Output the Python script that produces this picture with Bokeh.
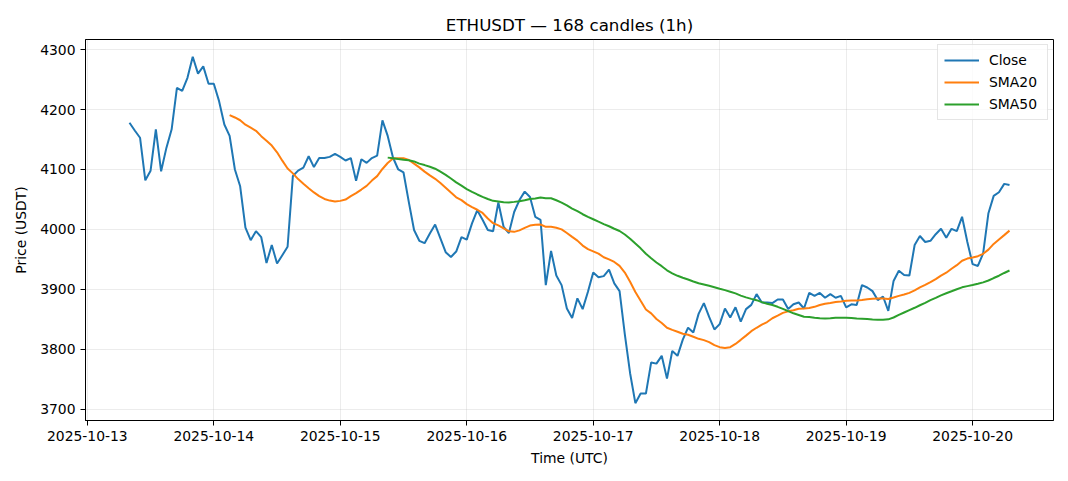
import numpy as np
import pandas as pd
from bokeh.plotting import figure
from bokeh.models import (Range1d, FixedTicker, DatetimeTickFormatter, Legend,
                          LegendItem, ColumnDataSource)
from bokeh.embed import file_html
from bokeh.resources import INLINE

title_text = "ETHUSDT \u2014 168 candles (1h)"
x_label = "Time (UTC)"
y_label = "Price (USDT)"
start_time = "2025-10-13 08:00"

close = [
    4178, 4165, 4153, 4082, 4098, 4167, 4097, 4136, 4167, 4236,
    4231, 4253, 4288, 4260, 4272, 4243, 4243, 4214, 4175, 4156,
    4100, 4072, 4003, 3982, 3997, 3987, 3944, 3974, 3943, 3957,
    3971, 4089, 4098, 4103, 4122, 4104, 4119, 4119, 4121, 4126,
    4121, 4115, 4119, 4081, 4117, 4111, 4119, 4123, 4182, 4156,
    4120, 4100, 4095, 4046, 3999, 3981, 3977, 3993, 4008, 3985,
    3962, 3954, 3963, 3987, 3983, 4010, 4032, 4016, 3999, 3997,
    4045, 4004, 3994, 4029, 4049, 4063, 4054, 4021, 4016, 3907,
    3964, 3923, 3907, 3868, 3852, 3885, 3867, 3896, 3928, 3920,
    3922, 3933, 3910, 3897, 3825, 3760, 3710, 3726, 3726, 3778,
    3776, 3789, 3751, 3797, 3789, 3816, 3836, 3828, 3859, 3877,
    3854, 3833, 3842, 3868, 3853, 3870, 3846, 3867, 3874, 3892,
    3878, 3878, 3877, 3883, 3883, 3867, 3875, 3878, 3868, 3894,
    3889, 3894, 3886, 3892, 3886, 3889, 3870, 3875, 3874, 3907,
    3903, 3897, 3882, 3888, 3864, 3914, 3931, 3924, 3923, 3974,
    3989, 3979, 3981, 3992, 4001, 3986, 4001, 3997, 4021, 3979,
    3942, 3939, 3960, 4027, 4056, 4062, 4076, 4074,
]
day_ticks = ["2025-10-13", "2025-10-14", "2025-10-15", "2025-10-16",
             "2025-10-17", "2025-10-18", "2025-10-19", "2025-10-20"]
y_ticks = [3700, 3800, 3900, 4000, 4100, 4200, 4300]
series_names = ["Close", "SMA20", "SMA50"]
series_colors = ["#1f77b4", "#ff7f0e", "#2ca02c"]

times = pd.date_range(start_time, periods=len(close), freq="h")
s = pd.Series(close, dtype=float)
sma20 = s.rolling(20).mean()
sma50 = s.rolling(50).mean()

def ms(t):
    return pd.Timestamp(t).value / 1e6

t_ms = np.array([ms(t) for t in times])
span = t_ms[-1] - t_ms[0]
x0, x1 = t_ms[0] - 0.05 * span, t_ms[-1] + 0.05 * span
vmin, vmax = min(close), max(close)
vr = vmax - vmin
y0, y1 = vmin - 0.05 * vr, vmax + 0.05 * vr

FONT = "DejaVu Sans"
p = figure(width=1060, height=473, x_axis_type="datetime",
           output_backend="svg", toolbar_location=None,
           x_range=Range1d(x0, x1), y_range=Range1d(y0, y1),
           title=title_text)
p.min_border_left = 85
p.min_border_right = 7
p.min_border_top = 39
p.min_border_bottom = 53

p.title.align = "center"
p.title.text_font = FONT
p.title.text_font_size = "16.7px"
p.title.text_font_style = "normal"
p.title.text_color = "black"

p.outline_line_color = "black"
p.outline_line_width = 1
p.outline_line_alpha = 1

p.xaxis.ticker = FixedTicker(ticks=[ms(d) for d in day_ticks])
fmt = "%Y-%m-%d"
p.xaxis.formatter = DatetimeTickFormatter(days=fmt, months=fmt, hours=fmt,
                                          hourmin=fmt, years=fmt)
p.yaxis.ticker = FixedTicker(ticks=y_ticks)
p.xaxis.axis_label = x_label
p.yaxis.axis_label = y_label

for ax in (p.xaxis, p.yaxis):
    ax.axis_label_text_font = FONT
    ax.axis_label_text_font_size = "13.9px"
    ax.axis_label_text_font_style = "normal"
    ax.axis_label_text_color = "black"
    ax.major_label_text_font = FONT
    ax.major_label_text_font_size = "13.9px"
    ax.major_label_text_color = "black"
    ax.major_tick_out = 5
    ax.major_tick_in = 0
    ax.minor_tick_out = 0
    ax.minor_tick_in = 0
    ax.major_tick_line_color = "black"
    ax.axis_line_color = "black"
    ax.major_label_standoff = 5
p.xaxis.axis_label_standoff = 6
p.yaxis.axis_label_standoff = 8

p.grid.grid_line_color = "#b0b0b0"
p.grid.grid_line_alpha = 0.3
p.grid.grid_line_width = 0.8

src = ColumnDataSource(dict(t=t_ms, close=s.values))
m20 = ~np.isnan(sma20.values)
m50 = ~np.isnan(sma50.values)
r_close = p.line("t", "close", source=src, color=series_colors[0], line_width=2)
r_20 = p.line(t_ms[m20], sma20.values[m20], color=series_colors[1], line_width=2)
r_50 = p.line(t_ms[m50], sma50.values[m50], color=series_colors[2], line_width=2)

legend = Legend(items=[LegendItem(label=series_names[0], renderers=[r_close]),
                       LegendItem(label=series_names[1], renderers=[r_20]),
                       LegendItem(label=series_names[2], renderers=[r_50])],
                location="top_right")
legend.label_text_font = FONT
legend.label_text_font_size = "13.9px"
legend.label_text_color = "black"
legend.border_line_color = "#cccccc"
legend.border_line_width = 1
legend.background_fill_alpha = 0.8
legend.glyph_width = 35
legend.glyph_height = 18
legend.label_height = 18
legend.label_width = 52
legend.label_standoff = 10
legend.spacing = 4
legend.padding = 6
legend.margin = 5
p.add_layout(legend)

open("out.html", "w").write(file_html(p, INLINE))
